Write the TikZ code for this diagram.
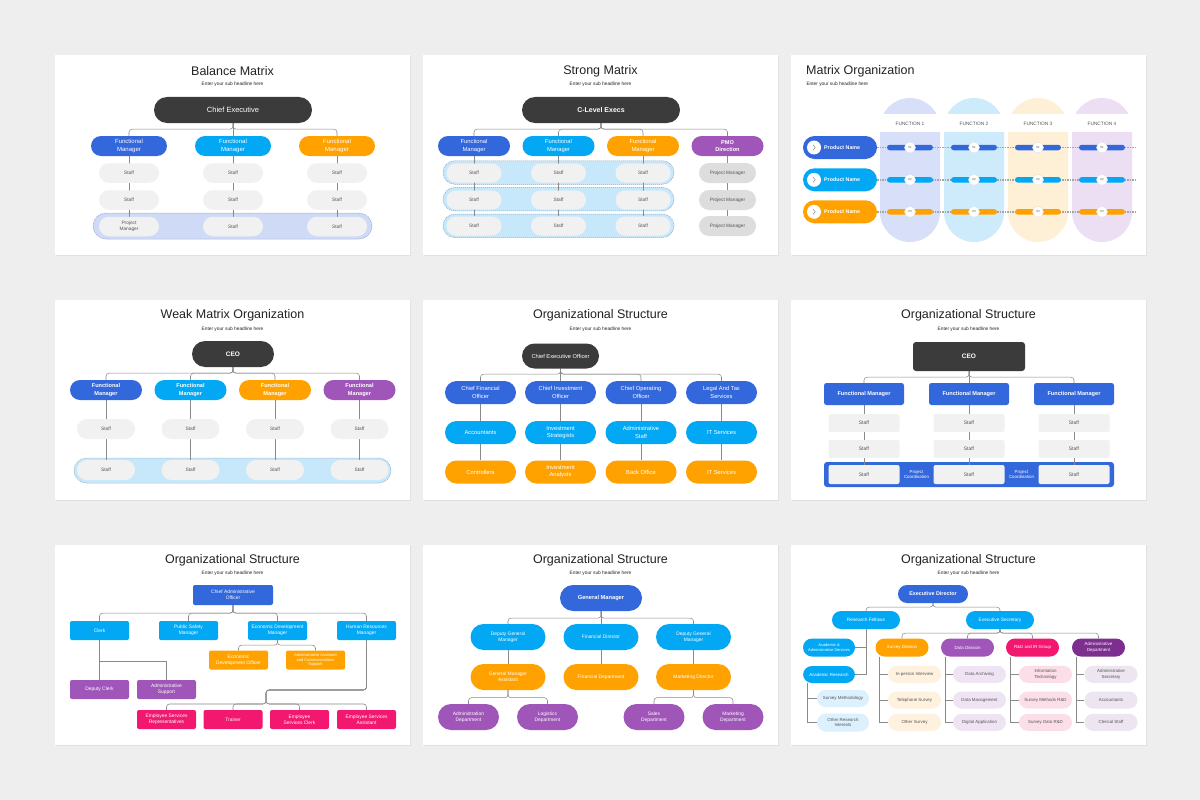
\documentclass[tikz,border=0pt]{standalone}
\usepackage{fontspec}
\setmainfont{Liberation Sans}
\definecolor{bgc}{HTML}{EEEEEE}
\definecolor{shc}{HTML}{E0E0E0}
\definecolor{titlec}{HTML}{222222}
\definecolor{darkc}{HTML}{3B3B3B}
\definecolor{cblue}{HTML}{3367DC}
\definecolor{clight}{HTML}{02A8F4}
\definecolor{corange}{HTML}{FFA200}
\definecolor{cpurple}{HTML}{A056B9}
\definecolor{cpink}{HTML}{F2176F}
\definecolor{cdpurple}{HTML}{7D2F8F}
\definecolor{staffc}{HTML}{F1F1F1}
\definecolor{pmc}{HTML}{DDDDDD}
\definecolor{band1}{HTML}{CEDAF6}
\definecolor{band2}{HTML}{C7E8FB}
\definecolor{dashc}{HTML}{8FA6C9}
\definecolor{linec}{HTML}{8A8A8A}
\definecolor{gtext}{HTML}{555555}
\definecolor{col1}{HTML}{D7E0F8}
\definecolor{col2}{HTML}{CEEBFC}
\definecolor{col3}{HTML}{FEF0D7}
\definecolor{col4}{HTML}{ECDFF4}
\definecolor{dotc}{HTML}{A5A5A5}
\definecolor{lblue}{HTML}{DCF0FD}
\definecolor{lorange}{HTML}{FEF1DD}
\definecolor{lpurple}{HTML}{EEE4F4}
\definecolor{lpink}{HTML}{FCDEE9}
\definecolor{lgray}{HTML}{EDE5EF}
\pgfdeclarelayer{back}
\pgfdeclarelayer{lines}
\pgfsetlayers{back,lines,main}
\begin{document}
\begin{tikzpicture}[x=1pt,y=-1pt,
 every node/.style={inner sep=0pt, align=center},
 wh/.style 2 args={minimum width=#1pt, minimum height=#2pt},
 pl/.style={rounded corners=#1pt},
 fs/.style 2 args={font=\fontsize{#1}{#2}\selectfont},
 fsb/.style 2 args={font=\fontsize{#1}{#2}\selectfont\bfseries},
 ttl/.style={font=\fontsize{12.5}{15}\selectfont, text=titlec},
 subt/.style={font=\fontsize{4.8}{5.8}\selectfont, text=titlec},
 wt/.style={text=white},
 gt/.style={text=gtext},
 conn/.style={draw=linec, line width=0.55pt, rounded corners=3pt},
 sconn/.style={draw=linec, line width=0.55pt},
 bandst/.style={draw=dashc, line width=0.5pt, dash pattern=on 1.2pt off 0.8pt},
]
\useasboundingbox (0,0) rectangle (1200,800);
\begin{pgfonlayer}{back}
\fill[bgc] (0,0) rectangle (1200,800);
\foreach \x in {55,423,791}{\foreach \y in {55,300,545}{
  \fill[shc] (\x+0.6,\y+1) rectangle (\x+355.8,\y+201.2);
  \fill[white] (\x,\y) rectangle (\x+355,\y+200);}}
\end{pgfonlayer}

%% ---------------- Slide 1: Balance Matrix
\begin{scope}[shift={(55,55)}]
\node[ttl] (s1t) at (177.5,16) {Balance Matrix};
\node[subt] (s1s) at (177.5,29.5) {Enter your sub headline here};
\node[wh={158}{26}, pl=13, fill=darkc, wt, fs={7.5}{9}] (s1ce) at (178,55) {Chief Executive};
\foreach \i/\x/\c in {1/74/cblue,2/178/clight,3/282/corange}{
  \node[wh={76}{20}, pl=10, fill=\c, wt, fs={6}{7.3}] (s1f\i) at (\x,91) {Functional\\Manager};
  \node[wh={60}{19.5}, pl=9.75, fill=staffc, gt, fs={4.8}{5.8}] (s1a\i) at (\x,118) {Staff};
  \node[wh={60}{19.5}, pl=9.75, fill=staffc, gt, fs={4.8}{5.8}] (s1b\i) at (\x,145) {Staff};
}
\node[wh={60}{19.5}, pl=9.75, fill=staffc, gt, fs={4.8}{5.8}] (s1c1) at (74,171.5) {Project\\Manager};
\node[wh={60}{19.5}, pl=9.75, fill=staffc, gt, fs={4.8}{5.8}] (s1c2) at (178,171.5) {Staff};
\node[wh={60}{19.5}, pl=9.75, fill=staffc, gt, fs={4.8}{5.8}] (s1c3) at (282,171.5) {Staff};
\begin{pgfonlayer}{back}
\node[wh={279}{26}, pl=13, fill=band1, bandst] (s1band) at (177.5,171) {};
\end{pgfonlayer}
\begin{pgfonlayer}{lines}
\draw[sconn] (s1ce) -- (s1f2);
\draw[conn] (s1ce.south) -- ++(0,6) -| (s1f1.north);
\draw[conn] (s1ce.south) -- ++(0,6) -| (s1f3.north);
\foreach \i in {1,2,3}{\draw[sconn] (s1f\i) -- (s1c\i);}
\end{pgfonlayer}
\end{scope}

%% ---------------- Slide 2: Strong Matrix
\begin{scope}[shift={(423,55)}]
\node[ttl] (s2t) at (177.5,16) {Strong Matrix};
\node[subt] (s2s) at (177.5,29.5) {Enter your sub headline here};
\node[wh={158}{26}, pl=13, fill=darkc, wt, fsb={7}{9}] (s2ce) at (178,55) {C-Level Execs};
\foreach \i/\x/\c in {1/51/cblue,2/135.5/clight,3/220/corange}{
  \node[wh={72}{20}, pl=10, fill=\c, wt, fs={5.8}{7.2}] (s2f\i) at (\x,91) {Functional\\Manager};
  \foreach \j/\y in {1/118,2/145,3/171}{
    \node[wh={55}{19}, pl=9.5, fill=staffc, gt, fs={4.8}{5.8}] (s2s\i\j) at (\x,\y) {Staff};}
}
\node[wh={72}{20}, pl=10, fill=cpurple, wt, fsb={5.6}{7.2}] (s2f4) at (304.5,91) {PMO\\Direction};
\foreach \j/\y in {1/118,2/145,3/171}{
  \node[wh={57}{20}, pl=10, fill=pmc, gt, fs={4.8}{5.8}] (s2p\j) at (304.5,\y) {Project Manager};}
\begin{pgfonlayer}{back}
\foreach \j/\y in {1/117.5,2/144.2,3/170.8}{
  \node[wh={231}{23.5}, pl=11.75, fill=band2, bandst] (s2band\j) at (135.5,\y) {};}
\end{pgfonlayer}
\begin{pgfonlayer}{lines}
\foreach \i in {1,...,4}{\draw[conn] (s2ce.south) -- ++(0,6) -| (s2f\i.north);}
\foreach \i in {1,2,3}{\draw[sconn] (s2f\i) -- (s2s\i3);}
\draw[sconn] (s2f4) -- (s2p3);
\end{pgfonlayer}
\end{scope}

%% ---------------- Slide 3: Matrix Organization
\begin{scope}[shift={(791,55)}]
\node[ttl, anchor=west] (s3t) at (15,16) {Matrix Organization};
\node[subt, anchor=west] (s3s) at (15.3,29.5) {Enter your sub headline here};
\foreach \c/\x/\cc in {1/119/col1,2/183/col2,3/247/col3,4/311/col4}{
  \node[wh={60}{144}, pl=30, fill=\cc] (s3col\c) at (\x,115) {};
}
\fill[white] (85,59) rectangle (345,77);
\foreach \c/\x in {1/119,2/183,3/247,4/311}{
  \node[fs={4.8}{6}, text=gtext] (s3fn\c) at (\x,68.5) {FUNCTION \c};}
\foreach \r/\y/\cc in {1/92.5/cblue,2/124.8/clight,3/156.8/corange}{
  \node[wh={74}{23}, pl=11.5, fill=\cc] (s3p\r) at (49,\y) {};
  \node[circle, fill=white, minimum size=14pt] (s3k\r) at (23,\y) {};
  \draw[linec, line width=0.5pt] ([shift={(-1,-2.6)}]s3k\r.center) -- ([shift={(1.3,0)}]s3k\r.center) -- ([shift={(-1,2.6)}]s3k\r.center);
  \node[fsb={5.3}{6}, wt, anchor=west] (s3pt\r) at (33,\y) {Product Name};
  \coordinate (s3e\r) at (344,\y);
  \draw[dotc, line width=1.4pt, dash pattern=on 1.3pt off 1.2pt] (s3p\r.east) -- (s3e\r);
  \foreach \c/\x in {1/119,2/183,3/247,4/311}{
    \node[wh={46}{5.5}, pl=2.75, fill=\cc] (s3b\r\c) at (\x,\y) {};
    \node[circle, fill=white, draw=shc, line width=0.4pt, minimum size=11pt, fs={3}{3.5}, text=gtext] (s3n\r\c) at (\x,\y) {0\r};
  }
}
\end{scope}

%% ---------------- Slide 4: Weak Matrix Organization
\begin{scope}[shift={(55,300)}]
\node[ttl] (s4t) at (177.5,15.5) {Weak Matrix Organization};
\node[subt] (s4s) at (177.5,29) {Enter your sub headline here};
\node[wh={82}{26}, pl=13, fill=darkc, wt, fsb={6.5}{8}] (s4ce) at (178,54) {CEO};
\foreach \i/\x/\c in {1/51/cblue,2/135.5/clight,3/220/corange,4/304.5/cpurple}{
  \node[wh={72}{20}, pl=10, fill=\c, wt, fsb={5.6}{7.2}] (s4f\i) at (\x,90) {Functional\\Manager};
  \node[wh={58}{20}, pl=10, fill=staffc, gt, fs={4.8}{5.8}] (s4a\i) at (\x,129) {Staff};
  \node[wh={58}{20}, pl=10, fill=staffc, gt, fs={4.8}{5.8}] (s4b\i) at (\x,170) {Staff};
}
\begin{pgfonlayer}{back}
\node[wh={317}{25}, pl=12.5, fill=band2, bandst] (s4band) at (177.5,170.5) {};
\end{pgfonlayer}
\begin{pgfonlayer}{lines}
\foreach \i in {1,...,4}{\draw[conn] (s4ce.south) -- ++(0,6) -| (s4f\i.north);
  \draw[sconn] (s4f\i) -- (s4b\i);}
\end{pgfonlayer}
\end{scope}

%% ---------------- Slide 5: Organizational Structure (CEO officer)
\begin{scope}[shift={(423,300)}]
\node[ttl] (s5t) at (177.5,15.5) {Organizational Structure};
\node[subt] (s5s) at (177.5,29) {Enter your sub headline here};
\node[wh={77}{25}, pl=12.5, fill=darkc, wt, fs={5.7}{7}] (s5ce) at (137.5,56) {Chief Executive Officer};
\tikzset{r1/.style={wh={71}{23}, pl=11.5, fill=cblue, wt, fs={5.8}{7.2}},
         r2/.style={wh={71}{23}, pl=11.5, fill=clight, wt, fs={5.8}{7.2}},
         r3/.style={wh={71}{23}, pl=11.5, fill=corange, wt, fs={5.8}{7.2}}}
\node[r1] (s5a1) at (57.5,92.5) {Chief Financial\\Officer};
\node[r1] (s5a2) at (137.5,92.5) {Chief Investment\\Officer};
\node[r1] (s5a3) at (218,92.5) {Chief Operating\\Officer};
\node[r1] (s5a4) at (298.5,92.5) {Legal And Tax\\Services};
\node[r2] (s5b1) at (57.5,132.5) {Accountants};
\node[r2] (s5b2) at (137.5,132.5) {Investment\\Strategists};
\node[r2] (s5b3) at (218,132.5) {Administrative\\Staff};
\node[r2] (s5b4) at (298.5,132.5) {IT Services};
\node[r3] (s5c1) at (57.5,172) {Controllers};
\node[r3] (s5c2) at (137.5,172) {Investment\\Analysts};
\node[r3] (s5c3) at (218,172) {Back Office};
\node[r3] (s5c4) at (298.5,172) {IT Services};
\begin{pgfonlayer}{lines}
\draw[sconn] (s5ce) -- (s5a2);
\foreach \i in {1,3,4}{\draw[conn] (s5ce.south) -- ++(0,5.5) -| (s5a\i.north);}
\foreach \i in {1,...,4}{\draw[sconn] (s5a\i) -- (s5c\i);}
\end{pgfonlayer}
\end{scope}

%% ---------------- Slide 6: Organizational Structure (CEO rect)
\begin{scope}[shift={(791,300)}]
\node[ttl] (s6t) at (177.5,15.5) {Organizational Structure};
\node[subt] (s6s) at (177.5,29) {Enter your sub headline here};
\node[wh={112}{29}, pl=3, fill=darkc, wt, fsb={6.5}{8}] (s6ce) at (178,56.5) {CEO};
\foreach \i/\x in {1/73,2/178,3/283}{
  \node[wh={80}{22}, pl=2.5, fill=cblue, wt, fsb={5.6}{7}] (s6f\i) at (\x,94) {Functional Manager};
  \node[wh={71}{18}, pl=2, fill=staffc, gt, fs={5}{6}] (s6a\i) at (\x,123) {Staff};
  \node[wh={71}{18}, pl=2, fill=staffc, gt, fs={5}{6}] (s6b\i) at (\x,149) {Staff};
  \node[wh={71}{19}, pl=2, fill=staffc, gt, fs={5}{6}] (s6c\i) at (\x,174.5) {Staff};
}
\node[wt, fs={4.4}{5.6}] (s6pc1) at (125.5,174.5) {Project\\Coordination};
\node[wt, fs={4.4}{5.6}] (s6pc2) at (230.5,174.5) {Project\\Coordination};
\begin{pgfonlayer}{back}
\node[wh={290}{25}, pl=3, fill=cblue] (s6band) at (178,174.5) {};
\end{pgfonlayer}
\begin{pgfonlayer}{lines}
\draw[sconn] (s6ce) -- (s6f2);
\draw[conn] (s6ce.south) -- ++(0,6) -| (s6f1.north);
\draw[conn] (s6ce.south) -- ++(0,6) -| (s6f3.north);
\foreach \i in {1,2,3}{\draw[sconn] (s6f\i) -- (s6c\i);}
\end{pgfonlayer}
\end{scope}

%% ---------------- Slide 7: Organizational Structure (Chief Administrative Officer)
\begin{scope}[shift={(55,545)}]
\node[ttl] (s7t) at (177.5,15) {Organizational Structure};
\node[subt] (s7s) at (177.5,28) {Enter your sub headline here};
\tikzset{bx/.style={wh={59}{19}, pl=2, wt, fs={4.9}{6}}}
\node[bx, wh={80}{20}, fill=cblue] (s7ca) at (178,50) {Chief Administrative\\Officer};
\node[bx, fill=clight] (s7r1) at (44.5,85.5) {Clerk};
\node[bx, fill=clight] (s7r2) at (133.5,85.5) {Public Safety\\Manager};
\node[bx, fill=clight] (s7r3) at (222.5,85.5) {Economic Development\\Manager};
\node[bx, fill=clight] (s7r4) at (311.5,85.5) {Human Resources\\Manager};
\node[bx, fill=corange] (s7o1) at (183.5,115) {Economic\\Development Officer};
\node[bx, fill=corange, fs={4}{4.8}] (s7o2) at (260.5,115) {Administrative Assistant\\and Communications\\Support};
\node[bx, fill=cpurple] (s7p1) at (44.5,144.5) {Deputy Clerk};
\node[bx, fill=cpurple] (s7p2) at (111.5,144.5) {Administrative\\Support};
\node[bx, fill=cpink] (s7k1) at (111.5,174.5) {Employee Services\\Representatives};
\node[bx, fill=cpink] (s7k2) at (178,174.5) {Trainer};
\node[bx, fill=cpink] (s7k3) at (244.5,174.5) {Employee\\Services Clerk};
\node[bx, fill=cpink] (s7k4) at (311.5,174.5) {Employee Services\\Assistant};
\coordinate (s7j) at (211,145);
\begin{pgfonlayer}{lines}
\foreach \i in {1,...,4}{\draw[conn] (s7ca.south) -- ++(0,8) -| (s7r\i.north);}
\foreach \i in {1,2}{\draw[conn] (s7r3.south) -- ++(0,5) -| (s7o\i.north);}
\draw[sconn] (s7r1) -- (s7p1);
\draw[sconn] (s7r1.south) ++(0,21) -| (s7p2.north);
\foreach \i in {1,...,4}{\draw[conn] (s7r4.south) |- (s7j) -- ++(0,14) -| (s7k\i.north);}
\end{pgfonlayer}
\end{scope}

%% ---------------- Slide 8: Organizational Structure (General Manager)
\begin{scope}[shift={(423,545)}]
\node[ttl] (s8t) at (177.5,15) {Organizational Structure};
\node[subt] (s8s) at (177.5,28) {Enter your sub headline here};
\tikzset{gp/.style={wh={75}{26}, pl=13, wt, fs={4.9}{6.2}},
         hp/.style={wh={61}{26}, pl=13, wt, fill=cpurple, fs={4.9}{6.2}}}
\node[gp, wh={82}{26}, fill=cblue, fsb={5.7}{7}] (s8gm) at (178,53) {General Manager};
\node[gp, fill=clight] (s8a1) at (85,92) {Deputy General\\Manager};
\node[gp, fill=clight] (s8a2) at (178,92) {Financial Director};
\node[gp, fill=clight] (s8a3) at (270.5,92) {Deputy General\\Manager};
\node[gp, fill=corange] (s8b1) at (85,132) {General Manager\\Assistant};
\node[gp, fill=corange] (s8b2) at (178,132) {Financial Department};
\node[gp, fill=corange] (s8b3) at (270.5,132) {Marketing Director};
\node[hp] (s8c1) at (45.5,172) {Administration\\Department};
\node[hp] (s8c2) at (124.5,172) {Logistics\\Department};
\node[hp] (s8c3) at (231,172) {Sales\\Department};
\node[hp] (s8c4) at (310,172) {Marketing\\Department};
\begin{pgfonlayer}{lines}
\draw[sconn] (s8gm) -- (s8a2);
\foreach \i in {1,3}{\draw[conn] (s8gm.south) -- ++(0,7) -| (s8a\i.north);}
\foreach \i in {1,2,3}{\draw[sconn] (s8a\i) -- (s8b\i);}
\foreach \i in {1,2}{\draw[conn] (s8b1.south) -- ++(0,7.5) -| (s8c\i.north);}
\foreach \i in {3,4}{\draw[conn] (s8b3.south) -- ++(0,7.5) -| (s8c\i.north);}
\end{pgfonlayer}
\end{scope}

%% ---------------- Slide 9: Organizational Structure (Executive Director)
\begin{scope}[shift={(791,545)}]
\node[ttl] (s9t) at (177.5,15) {Organizational Structure};
\node[subt] (s9s) at (177.5,28) {Enter your sub headline here};
\tikzset{np/.style={wh={53}{18}, pl=9, wt, fs={4.4}{5.6}},
         ip/.style={wh={53}{17}, pl=8.5, gt, fs={4.4}{5.4}}}
\node[np, wh={70}{18}, fill=cblue, fsb={5.4}{6.5}] (s9ed) at (142,49) {Executive Director};
\node[np, wh={68}{18}, fill=clight, fs={4.8}{6}] (s9rf) at (75,75) {Research Fellows};
\node[np, wh={68}{18}, fill=clight, fs={4.8}{6}] (s9es) at (209,75) {Executive Secretary};
\node[np, wh={52}{18}, fill=clight, fs={4}{5.3}] (s9aa) at (38,102.5) {Academic \&\\Administrative Services};
\node[np, wh={52}{17}, fill=clight] (s9ar) at (38,129.5) {Academic Research};
\node[ip, wh={52}{17}, fill=lblue] (s9sm) at (52,153.5) {Survey Methodology};
\node[ip, wh={52}{18}, pl=9, fill=lblue] (s9or) at (52,177.5) {Other Research\\Interests};
\node[np, fill=corange] (s9d1) at (111,102.5) {Survey Division};
\node[np, fill=cpurple] (s9d2) at (176.5,102.5) {Data Division};
\node[np, fill=cpink] (s9d3) at (241.5,102.5) {R\&D and IR Group};
\node[np, fill=cdpurple] (s9d4) at (307.5,102.5) {Administrative\\Department};
\node[ip, fill=lorange] (s9i11) at (123.5,129.3) {In-person Interview};
\node[ip, fill=lorange] (s9i12) at (123.5,155) {Telephone Survey};
\node[ip, fill=lorange] (s9i13) at (123.5,177.3) {Other Survey};
\node[ip, fill=lpurple] (s9i21) at (188.5,129.3) {Data Archiving};
\node[ip, fill=lpurple] (s9i22) at (188.5,155) {Data Management};
\node[ip, fill=lpurple] (s9i23) at (188.5,177.3) {Digital Application};
\node[ip, fill=lpink] (s9i31) at (254.5,129.3) {Information\\Technology};
\node[ip, fill=lpink] (s9i32) at (254.5,155) {Survey Methods R\&D};
\node[ip, fill=lpink] (s9i33) at (254.5,177.3) {Survey Data R\&D};
\node[ip, fill=lgray] (s9i41) at (320,129.3) {Administrative\\Secretary};
\node[ip, fill=lgray] (s9i42) at (320,155) {Accountants};
\node[ip, fill=lgray] (s9i43) at (320,177.3) {Clerical Staff};
\begin{pgfonlayer}{lines}
\draw[conn] (s9ed.south) -- ++(0,4) -| (s9rf.north);
\draw[conn] (s9ed.south) -- ++(0,4) -| (s9es.north);
\draw[sconn] (s9rf.south) |- (s9aa.east);
\draw[sconn] (s9rf.south) |- (s9ar.east);
\draw[sconn] ([xshift=4.7pt]s9ar.south west) |- (s9sm.west);
\draw[sconn] ([xshift=4.7pt]s9ar.south west) |- (s9or.west);
\foreach \i in {1,...,4}{
  \draw[conn] (s9es.south) -- ++(0,4) -| (s9d\i.north);
  \foreach \j in {1,2,3}{\draw[sconn] ([xshift=4pt]s9d\i.south west) |- (s9i\i\j.west);}
}
\end{pgfonlayer}
\end{scope}
\end{tikzpicture}
\end{document}
